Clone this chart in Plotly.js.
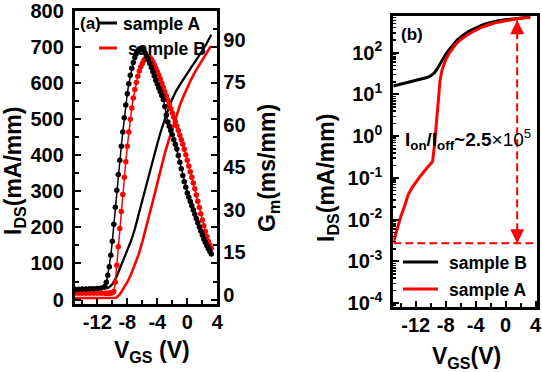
<!DOCTYPE html>
<html>
<head>
<meta charset="utf-8">
<script src="https://cdn.plot.ly/plotly-3.0.1.min.js"></script>
<style>html,body{margin:0;padding:0;background:#fff;}#chart{width:542px;height:372px;}</style>
</head>
<body>
<div id="chart"></div>
<script>
// ---------- Panel (a): transfer (linear) ----------
var idsV = [-15,-14.5,-14,-13.5,-13,-12.5,-12,-11.5,-11,-10.5,-10,-9.5,-9,-8.5,-8,-7.5,-7,-6.5,-6,-5.5,-5,-4.5,-4,-3.5,-3,-2.5,-2,-1.5,-1,-0.5,0,0.5,1,1.5,2,2.5,3,3.2];
var idsA = [25,25.5,26,26.5,27,27.5,28,29,30,33,42,60,84,110,137,163,195,235,276,316,356,395,432,468,502,530,556,578,595,612,628,643,658,673,690,707,726,734];
var idsB = [4,4,4,4,4,4,4,4,4,4,4,5,14,30,48,70,95,124,160,198,238,280,322,365,405,440,475,508,538,564,588,610,630,648,665,682,698,703];

var gmV = [-15,-14.5,-14,-13.5,-13,-12.5,-12,-11.5,-11,
  -10.8,-10.6,-10.4,-10.2,-10,-9.8,-9.6,-9.4,-9.2,-9,
  -8.8,-8.6,-8.4,-8.2,-8,-7.8,-7.6,-7.4,-7.2,-7,
  -6.8,-6.6,-6.4,-6.2,-6,-5.8,-5.6,-5.4,-5.2,-5,
  -4.8,-4.6,-4.4,-4.2,-4,-3.8,-3.6,-3.4,-3.2,-3,
  -2.8,-2.6,-2.4,-2.2,-2,-1.8,-1.6,-1.4,-1.2,-1,
  -0.8,-0.6,-0.4,-0.2,0,0.2,0.4,0.6,0.8,1,
  1.2,1.4,1.6,1.8,2,2.2,2.4,2.6,2.8,3,3.2];
var gmA = [2.0,2.0,2.1,2.1,2.2,2.2,2.3,2.5,3.0,
  4.5,7,10,14,19,25,31,37,42.5,47.5,
  52.5,57.5,62.5,67,71,74.5,77.5,80,82,83.8,
  85.2,86.2,86.8,87,86.8,86.2,85.3,84.2,83,81.7,
  80.3,78.8,77.3,75.8,74.4,73,71.7,70.4,69,66.5,
  63.5,61,59.5,58,56.5,54.8,53.2,51.5,49.2,46.8,
  44.5,42.2,40,38,36,34.5,33,31.5,30,28.5,
  27,25.5,24,22.6,21.2,19.8,18.6,17.5,16.4,15.4,14.5];
var gmB = [0.6,0.6,0.6,0.6,0.6,0.6,0.6,0.6,0.6,
  0.6,0.6,0.6,0.7,0.8,1.2,4.5,10.5,17,23.5,
  29.5,35.5,41.5,47,52.5,57.5,62,66,69.5,72.5,
  75,77.2,79,80.5,81.7,82.7,83.4,83.8,84,83.8,
  83.2,82.3,81.2,80,78.8,77.5,76.2,74.7,73.2,71.7,
  70.2,68.7,67.2,65.7,64.2,62.7,61.2,59.6,58,56.4,
  54.8,53.2,51.4,49.5,47.5,45.5,43.5,41.5,39.5,37.5,
  35.3,33.1,30.9,28.7,26.5,24.4,22.4,20.6,19,17.6,16.5];

// ---------- Panel (b): transfer (log) ----------
var bBlackV = [-15,-14.5,-14,-13.5,-13,-12.5,-12,-11.5,-11,-10.5,-10,-9.5,-9,-8.5,-8,-7.5,-7,-6.5,-6,-5.5,-5,-4.5,-4,-3.5,-3,-2.5,-2,-1.5,-1,-0.5,0,0.5,1,1.5,2,2.5,3,3.3];
var bBlack = [16,16.8,17.6,18.5,19.4,20.4,21.5,22.7,24,25.5,28,33,45,66,92,120,155,198,240,280,318,355,395,435,470,505,535,560,583,603,620,638,655,670,685,698,710,716];
var bRedV = [-15,-14.5,-14,-13.5,-13,-12.5,-12,-11.5,-11,-10.5,-10,-9.75,-9.5,-9.25,-9,-8.75,-8.5,-8,-7.5,-7,-6.5,-6,-5.5,-5,-4.5,-4,-3.5,-3,-2.5,-2,-1.5,-1,-0.5,0,0.5,1,1.5,2,2.5,3,3.3];
var bRed = [0.0028,0.0062,0.012,0.021,0.04,0.058,0.08,0.105,0.135,0.17,0.21,0.25,0.6,2.2,7,22,38,68,100,135,172,205,240,275,310,350,385,420,455,485,515,540,565,590,612,632,650,666,680,692,698];

var offLevel = 0.00275;   // I_off dashed level
var onLevel = 600;        // arrow top
var arrowV = 1.55;        // V position of the arrow
var dashX = [-15, 4.2];

var xTickVals = [-12,-8,-4,0,4];
var xTickText = ['-12','-8','-4','0','4'];
var logTickVals = [1e-4,1e-3,1e-2,1e-1,1,10,100];
var logTickText = ['10<sup>-4</sup>','10<sup>-3</sup>','10<sup>-2</sup>','10<sup>-1</sup>','10<sup>0</sup>','10<sup>1</sup>','10<sup>2</sup>'];

var BLACK = '#000000', RED = '#ff0000';
var FONT = 'Arial, "Liberation Sans", sans-serif';
var W = 542, H = 372;
function px(x){return x/W;}
function py(y){return 1-y/H;}

var traces = [
  {x: idsV, y: idsB, xaxis:'x', yaxis:'y', mode:'lines', line:{color:RED, width:2.6}, hoverinfo:'skip'},
  {x: idsV, y: idsA, xaxis:'x', yaxis:'y', mode:'lines', line:{color:BLACK, width:2.3}, hoverinfo:'skip'},
  {x: gmV, y: gmB, xaxis:'x', yaxis:'y2', mode:'lines+markers', line:{color:RED, width:1.5}, marker:{color:RED, size:5.5}, hoverinfo:'skip'},
  {x: gmV, y: gmA, xaxis:'x', yaxis:'y2', mode:'lines+markers', line:{color:BLACK, width:1.5}, marker:{color:BLACK, size:5.5}, hoverinfo:'skip'},
  {x: dashX, y: [offLevel, offLevel], xaxis:'x2', yaxis:'y3', mode:'lines', line:{color:RED, width:2, dash:'8px,4px'}, hoverinfo:'skip'},
  {x: [arrowV, arrowV], y: [offLevel, onLevel], xaxis:'x2', yaxis:'y3', mode:'lines', line:{color:RED, width:2, dash:'8px,4px'}, hoverinfo:'skip'},
  {x: bBlackV, y: bBlack, xaxis:'x2', yaxis:'y3', mode:'lines', line:{color:BLACK, width:3}, hoverinfo:'skip'},
  {x: bRedV, y: bRed, xaxis:'x2', yaxis:'y3', mode:'lines', line:{color:RED, width:3}, hoverinfo:'skip'}
];

var tickFont = {family: FONT, size: 20, color: BLACK, weight: 'bold'};
function linAxis(extra){
  var a = {showline:true, linewidth:3, linecolor:BLACK, showgrid:false, zeroline:false,
    ticks:'inside', ticklen:6, tickwidth:2, tickcolor:BLACK, tickfont:tickFont, automargin:false, tickangle:0};
  for (var k in extra) a[k] = extra[k];
  return a;
}

var layout = {
  width: W, height: H,
  margin: {l:0, r:0, t:0, b:0},
  paper_bgcolor:'#ffffff', plot_bgcolor:'#ffffff',
  showlegend:false,
  xaxis: linAxis({domain:[px(74.8), px(217.3)], anchor:'y', range:[-15,4], tickvals:xTickVals, ticktext:xTickText,
    minor:{dtick:2, tick0:0, ticks:'inside', ticklen:4, tickwidth:2, tickcolor:BLACK}, mirror:true, ticklabelstandoff:-2}),
  yaxis: linAxis({domain:[py(303.5), py(11)], anchor:'x', range:[-11,800], dtick:100, tick0:0,
    minor:{dtick:50, ticks:'inside', ticklen:4, tickwidth:2, tickcolor:BLACK}, mirror:'ticks', ticklabelstandoff:4}),
  yaxis2: {overlaying:'y', side:'right', anchor:'x', range:[-3,100.2], dtick:15, tick0:0, ticks:'',
    showline:false, showgrid:false, zeroline:false, tickfont:tickFont, automargin:false, ticklabelstandoff:5},
  xaxis2: linAxis({domain:[px(393.3), px(537)], anchor:'y3', range:[-15,4.2], tickvals:xTickVals, ticktext:xTickText,
    minor:{dtick:2, tick0:0, ticks:'inside', ticklen:4, tickwidth:2, tickcolor:BLACK}, mirror:true, ticklabelstandoff:-2}),
  yaxis3: linAxis({domain:[py(307), py(16)], anchor:'x2', type:'log', range:[-4.09, 2.88],
    tickvals:logTickVals, ticktext:logTickText,
    minor:{ticks:'inside', ticklen:3, tickwidth:1.5, tickcolor:BLACK, dtick:'D1'}, mirror:true, ticklabelstandoff:4}),
  shapes: [
    {type:'line', xref:'paper', yref:'paper', x0:px(98), x1:px(117), y0:py(23), y1:py(23), line:{color:BLACK, width:3}},
    {type:'line', xref:'paper', yref:'paper', x0:px(99), x1:px(117), y0:py(48), y1:py(48), line:{color:RED, width:3}},
    {type:'line', xref:'paper', yref:'paper', x0:px(403), x1:px(438), y0:py(262), y1:py(262), line:{color:BLACK, width:3}},
    {type:'line', xref:'paper', yref:'paper', x0:px(403), x1:px(438), y0:py(289), y1:py(289), line:{color:RED, width:3}}
  ],
  annotations: []
};

function txt(text, x, y, size, opts){
  var a = {text:text, xref:'paper', yref:'paper', x:px(x), y:py(y), showarrow:false,
    xanchor:'center', yanchor:'middle', font:{family:FONT, size:size, color:BLACK, weight:'bold'}};
  for (var k in opts) a[k] = opts[k];
  return a;
}
var ann = layout.annotations;
ann.push(txt('I<sub>DS</sub>(mA/mm)', 14, 171, 23, {textangle:-90}));
ann.push(txt('G<sub>m</sub>(ms/mm)', 268, 168, 23, {textangle:-90}));
ann.push(txt('V<sub>GS</sub> (V)', 152, 351, 23));
ann.push(txt('I<sub>DS</sub>(mA/mm)', 327, 178, 23, {textangle:-90}));
ann.push(txt('V<sub>GS</sub>(V)', 466, 357, 23));
ann.push(txt('(a)', 78, 24, 17, {xanchor:'left'}));
ann.push(txt('sample A', 121, 24, 17.5, {xanchor:'left'}));
ann.push(txt('sample B', 126, 49, 17.5, {xanchor:'left'}));
ann.push(txt('(b)', 399, 34, 17, {xanchor:'left'}));
ann.push(txt('sample B', 447, 263, 17.5, {xanchor:'left'}));
ann.push(txt('sample A', 447, 290, 17.5, {xanchor:'left'}));
ann.push({text:'<b>I<sub>on</sub>/I<sub>off</sub>~2.5</b>×10<sup>5</sup>', xref:'paper', yref:'paper',
  x:px(403), y:py(139), xanchor:'left', yanchor:'middle', showarrow:false,
  font:{family:FONT, size:19, color:BLACK}});
ann.push({text:'', xref:'x2', yref:'y3', x:arrowV, y:Math.log10(onLevel), ax:0, ay:14,
  showarrow:true, arrowhead:2, arrowsize:1.4, arrowwidth:2, arrowcolor:RED, standoff:0});
ann.push({text:'', xref:'x2', yref:'y3', x:arrowV, y:Math.log10(offLevel), ax:0, ay:-14,
  showarrow:true, arrowhead:2, arrowsize:1.4, arrowwidth:2, arrowcolor:RED, standoff:0});

Plotly.newPlot('chart', traces, layout, {staticPlot:true, displayModeBar:false});
</script>
</body>
</html>
